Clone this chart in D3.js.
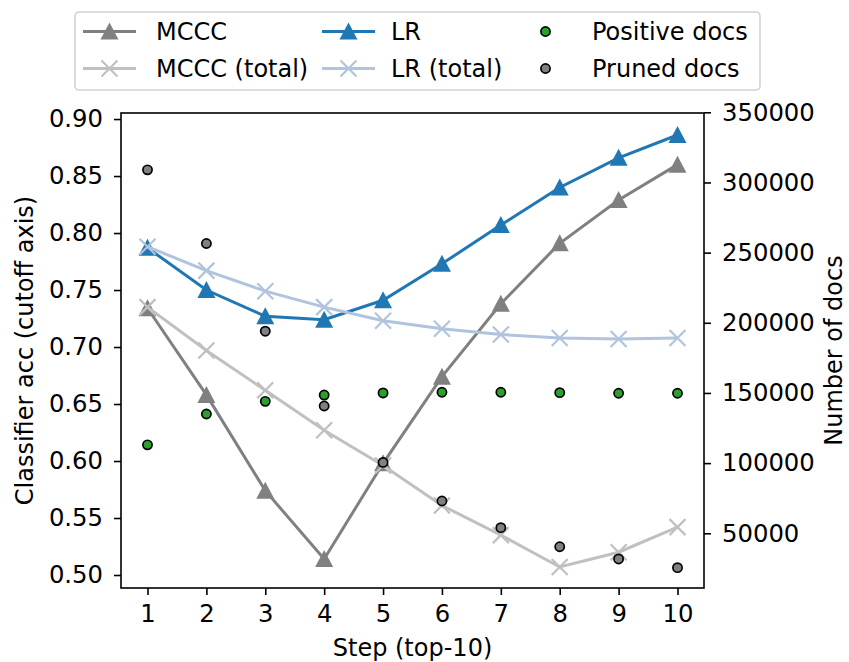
<!DOCTYPE html>
<html lang="en">
<head>
    <meta charset="UTF-8">
    <title>Classifier accuracy per step</title>
    <script src="https://d3js.org/d3.v7.min.js"></script>
    <style>
        body {
            margin: 0;
            padding: 0;
            background: #fff;
        }
        svg {
            display: block;
            font-family: "DejaVu Sans", sans-serif;
        }
        .axis text {
            font-size: 24.3px;
            fill: #000;
        }
        .axis line, .axis path {
            stroke: #000;
            stroke-width: 1.6px;
        }
        .label {
            font-size: 24px;
            text-anchor: middle;
        }
        .legend text {
            font-size: 24px;
        }
    </style>
</head>
<body>
    <svg width="849" height="662"></svg>

    <script>
        const steps = [1, 2, 3, 4, 5, 6, 7, 8, 9, 10];
        const mccc = [0.734, 0.658, 0.574, 0.514, 0.598, 0.674, 0.738, 0.791, 0.829, 0.860];
        const mcccTotal = [0.735, 0.697, 0.662, 0.627, 0.596, 0.561, 0.535, 0.507, 0.520, 0.542];
        const lr = [0.787, 0.750, 0.727, 0.724, 0.741, 0.773, 0.807, 0.840, 0.866, 0.886];
        const lrTotal = [0.788, 0.767, 0.749, 0.735, 0.723, 0.716, 0.711, 0.708, 0.707, 0.708];
        const positiveDocs = [113000, 135000, 144000, 148500, 150000, 150500, 150500, 150200, 149800, 149800];
        const prunedDocs = [309000, 256500, 194000, 140700, 100500, 73000, 54000, 40400, 31700, 25500];

        const leftTicks = [0.50, 0.55, 0.60, 0.65, 0.70, 0.75, 0.80, 0.85, 0.90];
        const rightTicks = [50000, 100000, 150000, 200000, 250000, 300000, 350000];

        const svg = d3.select("svg");
        const plot = { left: 121, right: 704, top: 113, bottom: 588 };

        const x = d3.scaleLinear().domain([0.55, 10.45]).range([plot.left, plot.right]);
        const yLeft = d3.scaleLinear().domain([0.4886, 0.9053]).range([plot.bottom, plot.top]);
        const yRight = d3.scaleLinear().domain([11000, 349500]).range([plot.bottom, plot.top]);

        // ejes
        svg.append("g")
            .attr("class", "axis")
            .attr("transform", `translate(0,${plot.bottom})`)
            .call(d3.axisBottom(x).tickValues(steps).tickFormat(d3.format("d")).tickSize(7).tickPadding(10));

        svg.append("g")
            .attr("class", "axis")
            .attr("transform", `translate(${plot.left},0)`)
            .call(d3.axisLeft(yLeft).tickValues(leftTicks).tickFormat(d3.format(".2f")).tickSize(7).tickPadding(11));

        svg.append("g")
            .attr("class", "axis")
            .attr("transform", `translate(${plot.right},0)`)
            .call(d3.axisRight(yRight).tickValues(rightTicks).tickFormat(d3.format("d")).tickSize(7).tickPadding(11));

        svg.selectAll(".axis path").remove();
        svg.selectAll(".axis text").attr("font-family", "DejaVu Sans");

        // marco
        svg.append("rect")
            .attr("x", plot.left)
            .attr("y", plot.top)
            .attr("width", plot.right - plot.left)
            .attr("height", plot.bottom - plot.top)
            .attr("fill", "none")
            .attr("stroke", "#000")
            .attr("stroke-width", 1.6);

        // etiquetas
        svg.append("text")
            .attr("class", "label")
            .attr("x", (plot.left + plot.right) / 2)
            .attr("y", 656)
            .text("Step (top-10)");

        svg.append("text")
            .attr("class", "label")
            .attr("transform", `translate(33,${(plot.top + plot.bottom) / 2}) rotate(-90)`)
            .text("Classifier acc (cutoff axis)");

        svg.append("text")
            .attr("class", "label")
            .attr("transform", `translate(842,${(plot.top + plot.bottom) / 2}) rotate(-90)`)
            .text("Number of docs");

        const triangle = "M0,-9L9,8L-9,8Z";
        const cross = "M-8,-8L8,8M-8,8L8,-8";

        const series = [
            { name: "MCCC", values: mccc, color: "#808080", marker: "tri" },
            { name: "MCCC (total)", values: mcccTotal, color: "#c0c0c0", marker: "x" },
            { name: "LR", values: lr, color: "#1f77b4", marker: "tri" },
            { name: "LR (total)", values: lrTotal, color: "#b0c4de", marker: "x" }
        ];

        const line = d3.line()
            .x((d, i) => x(steps[i]))
            .y(d => yLeft(d));

        function drawMarker(g, type, color, px, py) {
            if (type === "tri") {
                g.append("path")
                    .attr("d", triangle)
                    .attr("transform", `translate(${px},${py})`)
                    .attr("fill", color);
            } else if (type === "x") {
                g.append("path")
                    .attr("d", cross)
                    .attr("transform", `translate(${px},${py})`)
                    .attr("fill", "none")
                    .attr("stroke", color)
                    .attr("stroke-width", 2.2);
            } else {
                g.append("circle")
                    .attr("cx", px)
                    .attr("cy", py)
                    .attr("r", 4.6)
                    .attr("fill", color)
                    .attr("stroke", "#000")
                    .attr("stroke-width", 1.7);
            }
        }

        series.forEach(s => {
            const g = svg.append("g");
            g.append("path")
                .datum(s.values)
                .attr("d", line)
                .attr("fill", "none")
                .attr("stroke", s.color)
                .attr("stroke-width", 3);
            s.values.forEach((v, i) => drawMarker(g, s.marker, s.color, x(steps[i]), yLeft(v)));
        });

        // puntos del eje derecho
        const scatter = [
            { name: "Positive docs", values: positiveDocs, color: "#2ca02c" },
            { name: "Pruned docs", values: prunedDocs, color: "#808080" }
        ];

        scatter.forEach(s => {
            const g = svg.append("g");
            s.values.forEach((v, i) => drawMarker(g, "dot", s.color, x(steps[i]), yRight(v)));
        });

        // leyenda
        const legend = svg.append("g").attr("class", "legend");
        legend.append("rect")
            .attr("x", 75)
            .attr("y", 12)
            .attr("width", 685)
            .attr("height", 78)
            .attr("rx", 4)
            .attr("fill", "#fff")
            .attr("stroke", "#d3d3d3")
            .attr("stroke-width", 1.6);

        const legendItems = series.concat(scatter.map(s => ({ name: s.name, color: s.color, marker: "dot" })));
        const colX = [83, 322, 519];
        const textX = [156, 391, 592];
        const rowY = [31.5, 68.5];

        legendItems.forEach((item, k) => {
            const col = Math.floor(k / 2);
            const row = k % 2;
            const g = legend.append("g");
            const y0 = rowY[row];
            if (item.marker !== "dot") {
                g.append("line")
                    .attr("x1", colX[col])
                    .attr("x2", colX[col] + 53)
                    .attr("y1", y0)
                    .attr("y2", y0)
                    .attr("stroke", item.color)
                    .attr("stroke-width", 3);
            }
            drawMarker(g, item.marker, item.color, colX[col] + 26.5, y0);
            g.append("text")
                .attr("x", textX[col])
                .attr("y", y0)
                .attr("dy", "0.36em")
                .text(item.name);
        });
    </script>
</body>
</html>
